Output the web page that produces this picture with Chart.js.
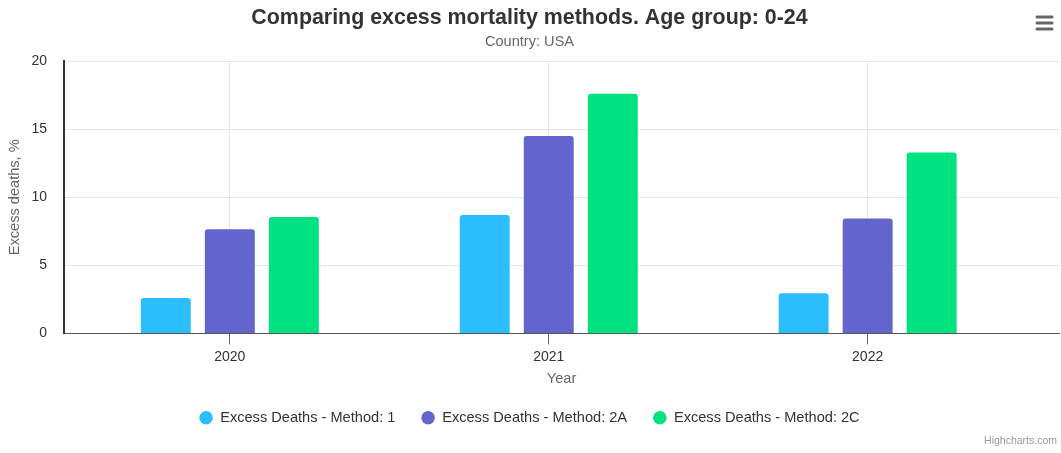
<!DOCTYPE html>
<html>
<head>
<meta charset="utf-8">
<title>Excess mortality methods</title>
<script src="https://cdn.jsdelivr.net/npm/chart.js@4"></script>
<style>
  html, body { margin: 0; padding: 0; background: #fff; }
  #chart { width: 1061px; height: 453px; position: relative; }
</style>
</head>
<body>
<div id="chart"><canvas id="excess"></canvas></div>
<script>
// age group 0-24, USA, excess deaths in %
const years = ["2020", "2021", "2022"];
const method1 = [2.6, 8.7, 2.95];
const method2A = [7.65, 14.5, 8.45];
const method2C = [8.55, 17.6, 13.3];
const yTicks = [0, 5, 10, 15, 20];

const seriesNames = [
  "Excess Deaths - Method: 1",
  "Excess Deaths - Method: 2A",
  "Excess Deaths - Method: 2C",
];
const seriesColors = ["#2cbdfe", "#6365cc", "#00e27f"];

const toPoints = (values) => values.map((v, i) => ({ x: i, y: v }));

Chart.defaults.font.family = '"Liberation Sans", Arial, Helvetica, sans-serif';
Chart.defaults.font.size = 14;
Chart.defaults.color = "#333";

// credits text + export menu icon, drawn after the chart
const extras = {
  id: "extras",
  afterDraw(chart) {
    const ctx = chart.ctx;
    ctx.save();
    ctx.fillStyle = "#999";
    ctx.font = '10.5px "Liberation Sans", Arial, sans-serif';
    ctx.textAlign = "right";
    ctx.textBaseline = "middle";
    ctx.fillText("Highcharts.com", 1057, 441);

    ctx.strokeStyle = "#666";
    ctx.lineWidth = 3;
    ctx.lineCap = "round";
    [17, 23, 29].forEach((y) => {
      ctx.beginPath();
      ctx.moveTo(1037, y);
      ctx.lineTo(1052, y);
      ctx.stroke();
    });
    ctx.restore();
  },
};

const datasets = [method1, method2A, method2C].map((vals, k) => ({
  label: seriesNames[k],
  data: toPoints(vals),
  backgroundColor: seriesColors[k],
  borderWidth: 0,
  borderRadius: 3,
  categoryPercentage: 0.6024,
  barPercentage: 0.78,
}));

new Chart(document.getElementById("excess"), {
  type: "bar",
  data: { datasets: datasets },
  plugins: [extras],
  options: {
    responsive: true,
    maintainAspectRatio: false,
    animation: false,
    layout: { padding: { top: 0, left: 0, right: 2, bottom: 18 } },
    plugins: {
      title: {
        display: true,
        text: "Comparing excess mortality methods. Age group: 0-24",
        color: "#333",
        font: { size: 21.4, weight: "bold" },
        padding: { top: 5, bottom: 3 },
      },
      subtitle: {
        display: true,
        text: "Country: USA",
        color: "#666",
        font: { size: 14.6 },
        padding: { top: 0, bottom: 10 },
      },
      legend: {
        position: "bottom",
        labels: {
          usePointStyle: true,
          pointStyle: "circle",
          pointStyleWidth: 13.5,
          boxHeight: 9.5,
          padding: 26,
          color: "#333",
          font: { size: 14.6 },
        },
      },
      tooltip: { enabled: false },
    },
    scales: {
      x: {
        type: "linear",
        min: -0.52,
        max: 2.6,
        offset: false,
        afterBuildTicks: (scale) => {
          scale.ticks = years.map((_, i) => ({ value: i }));
        },
        afterFit: (scale) => {
          scale.height = 51;
        },
        ticks: {
          color: "#333",
          padding: 4,
          callback: (v) => years[v],
        },
        grid: {
          offset: false,
          color: "#e6e6e6",
          tickColor: "#666",
          tickLength: 11,
        },
        border: { color: "#555", width: 1 },
        title: {
          display: true,
          text: "Year",
          color: "#666",
          font: { size: 14.6 },
          padding: { top: 0, bottom: -3 },
        },
      },
      y: {
        min: 0,
        max: 20,
        afterBuildTicks: (scale) => {
          scale.ticks = yTicks.map((v) => ({ value: v }));
        },
        afterFit: (scale) => {
          scale.width = 64;
        },
        ticks: { color: "#333", padding: 17 },
        grid: { color: "#e6e6e6", drawTicks: false },
        border: { color: "#333", width: 2 },
        title: {
          display: true,
          text: "Excess deaths, %",
          color: "#666",
          font: { size: 14.6 },
          padding: { top: 6, bottom: 0 },
        },
      },
    },
  },
});
</script>
</body>
</html>
